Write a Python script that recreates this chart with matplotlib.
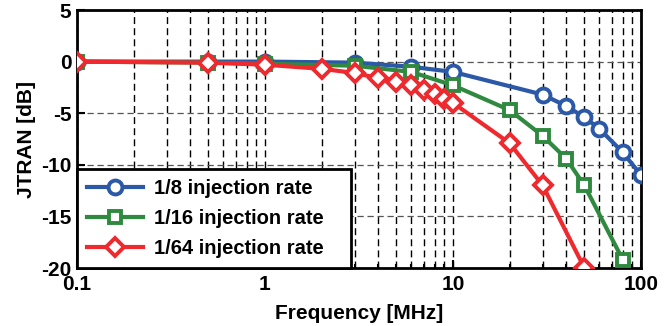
import matplotlib
matplotlib.use("Agg")
import matplotlib.pyplot as plt
from matplotlib.ticker import FixedLocator, LogLocator, NullFormatter

plt.rcParams['font.family'] = ['Liberation Sans', 'DejaVu Sans']
plt.rcParams['font.weight'] = 'bold'

freq_8 = [0.1, 0.5, 1, 3, 6, 10, 30, 40, 50, 60, 80, 100]
jtran_8 = [0.0, 0.0, 0.0, -0.1, -0.5, -1.0, -3.2, -4.3, -5.4, -6.5, -8.8, -11.0]

freq_16 = [0.1, 0.5, 1, 3, 6, 10, 20, 30, 40, 50, 80]
jtran_16 = [0.0, -0.1, -0.2, -0.4, -1.0, -2.3, -4.7, -7.2, -9.4, -12.0, -19.2]

freq_64 = [0.1, 0.5, 1, 2, 3, 4, 5, 6, 7, 8, 9, 10, 20, 30, 50]
jtran_64 = [0.0, -0.1, -0.3, -0.7, -1.1, -1.6, -2.0, -2.3, -2.8, -3.1, -3.6, -4.0, -7.9, -12.0, -20.0]

labels = ['1/8 injection rate', '1/16 injection rate', '1/64 injection rate']
x_ticks = [0.1, 1, 10, 100]
x_ticklabels = ['0.1', '1', '10', '100']
y_ticks = [-20, -15, -10, -5, 0, 5]

blue = '#2B58A7'
green = '#2F8A3F'
red = '#EE2A2E'

fig = plt.figure(figsize=(6.72, 3.26), dpi=100)
ax = fig.add_axes([77/672, 1-268/326, (641-77)/672, (268-10)/326])

ax.plot(freq_8, jtran_8, '-o', color=blue, lw=3, ms=10, mfc='white', mew=2.8, label=labels[0], zorder=3)
ax.plot(freq_16, jtran_16, '-s', color=green, lw=3, ms=9, mfc='white', mew=2.8, label=labels[1], zorder=4)
ax.plot(freq_64, jtran_64, '-D', color=red, lw=3, ms=9, mfc='white', mew=2.8, label=labels[2], zorder=5)

ax.set_xscale('log')
ax.set_xlim(0.1, 100)
ax.set_ylim(-20, 5)
ax.xaxis.set_major_locator(FixedLocator(x_ticks))
ax.set_xticklabels(x_ticklabels)
ax.xaxis.set_minor_locator(LogLocator(base=10, subs=range(2, 10)))
ax.xaxis.set_minor_formatter(NullFormatter())
ax.set_yticks(y_ticks)
ax.set_yticklabels([str(v) for v in y_ticks])

ax.grid(True, which='major', axis='x', color='black', linestyle=(0, (5, 3)), lw=1.0)
ax.grid(True, which='minor', axis='x', color='black', linestyle=(0, (5, 3)), lw=1.0)
ax.grid(True, which='major', axis='y', color='#555555', linestyle=(0, (5, 3)), lw=0.9)
ax.set_axisbelow(True)

for s in ax.spines.values():
    s.set_linewidth(2)
ax.tick_params(which='both', direction='in', labelsize=15, width=1.5)
ax.tick_params(axis='x', which='major', length=6, pad=5)
ax.tick_params(axis='y', which='major', length=6, pad=4)
ax.tick_params(which='minor', length=3)

ax.set_xlabel('Frequency [MHz]', fontsize=15, fontweight='bold', labelpad=7)
ax.set_ylabel('JTRAN [dB]', fontsize=15, fontweight='bold', labelpad=4)

leg = ax.legend(loc='lower left', bbox_to_anchor=(0, 0, (351-77)/564, 0.4), mode='expand',
                borderaxespad=0, fancybox=False,
                framealpha=1, edgecolor='black', prop={'size': 14.5, 'weight': 'bold'},
                handlelength=2.8, borderpad=0.5, labelspacing=0.55, handletextpad=0.5)
leg.get_frame().set_linewidth(2)
leg.set_zorder(10)

fig.savefig('out.png', dpi=100)
